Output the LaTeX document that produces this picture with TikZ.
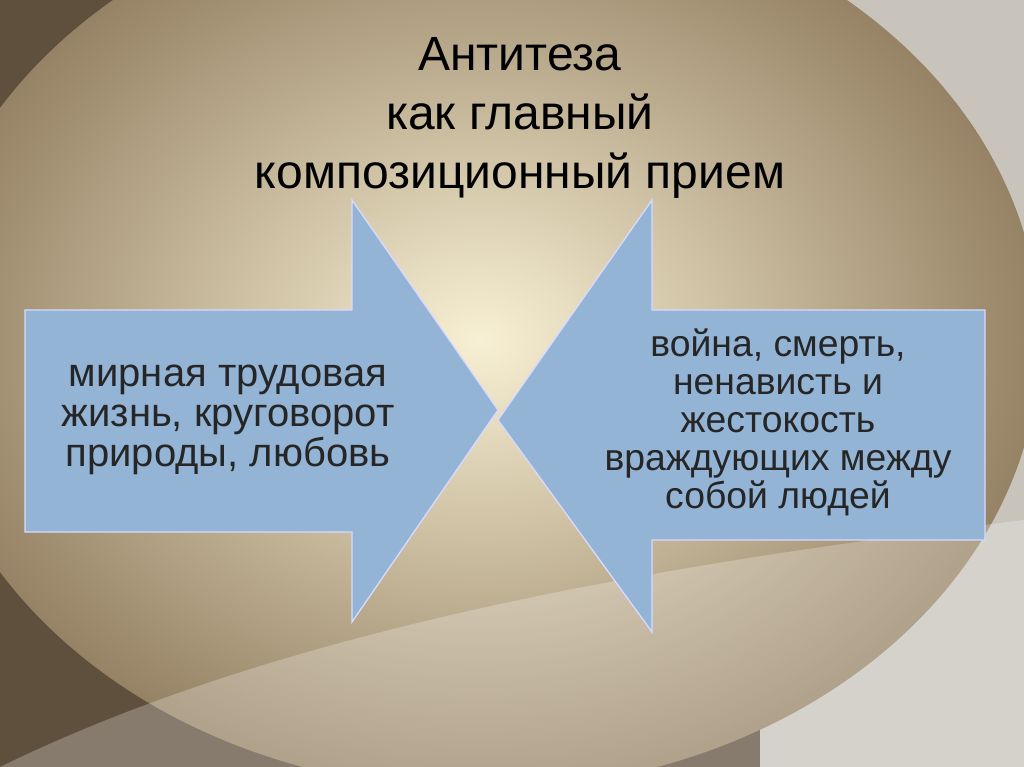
\documentclass[tikz,border=0pt]{standalone}
\usepackage{fontspec}
\setmainfont{Liberation Sans}
\begin{document}
\begin{tikzpicture}[x=0.75pt,y=-0.75pt,
  arr/.style={fill=arrowblue,draw=white!85!blue,line width=1pt},
  txt/.style={align=center,text=black!85}]
\definecolor{arrowblue}{HTML}{94B4D6}
\useasboundingbox (0,0) rectangle (1024,767);
\fill[color={rgb,255:red,95;green,80;blue,62}] (0,0) rectangle (1024,767);
\fill[color={rgb,255:red,200;green,196;blue,188}] (760,0) rectangle (1024,767);
\shade[inner color={rgb,255:red,248;green,240;blue,212},outer color={rgb,255:red,150;green,130;blue,100}] (480,340) ellipse (560 and 450);
\fill[white,opacity=0.25] (0,767) .. controls (300,620) and (700,560) .. (1024,520) -- (1024,767) -- cycle;
\node[txt,font=\fontsize{36}{44}\selectfont,text=black] (title) at (520,118) {Антитеза\\как главный\\композиционный прием};
\draw[arr] (25,310) -- (352,310) -- (352,200) -- (498,410) -- (352,622) -- (352,532) -- (25,532) -- cycle;
\draw[arr] (985,310) -- (652,310) -- (652,200) -- (498,420) -- (652,632) -- (652,540) -- (985,540) -- cycle;
\node[txt,font=\fontsize{30}{30}\selectfont] (l) at (228,420) {мирная трудовая\\жизнь, круговорот\\природы, любовь};
\node[txt,font=\fontsize{28}{28.5}\selectfont] (r) at (778,422) {война, смерть,\\ненависть и\\жестокость\\враждующих между\\собой людей};
\end{tikzpicture}
\end{document}
